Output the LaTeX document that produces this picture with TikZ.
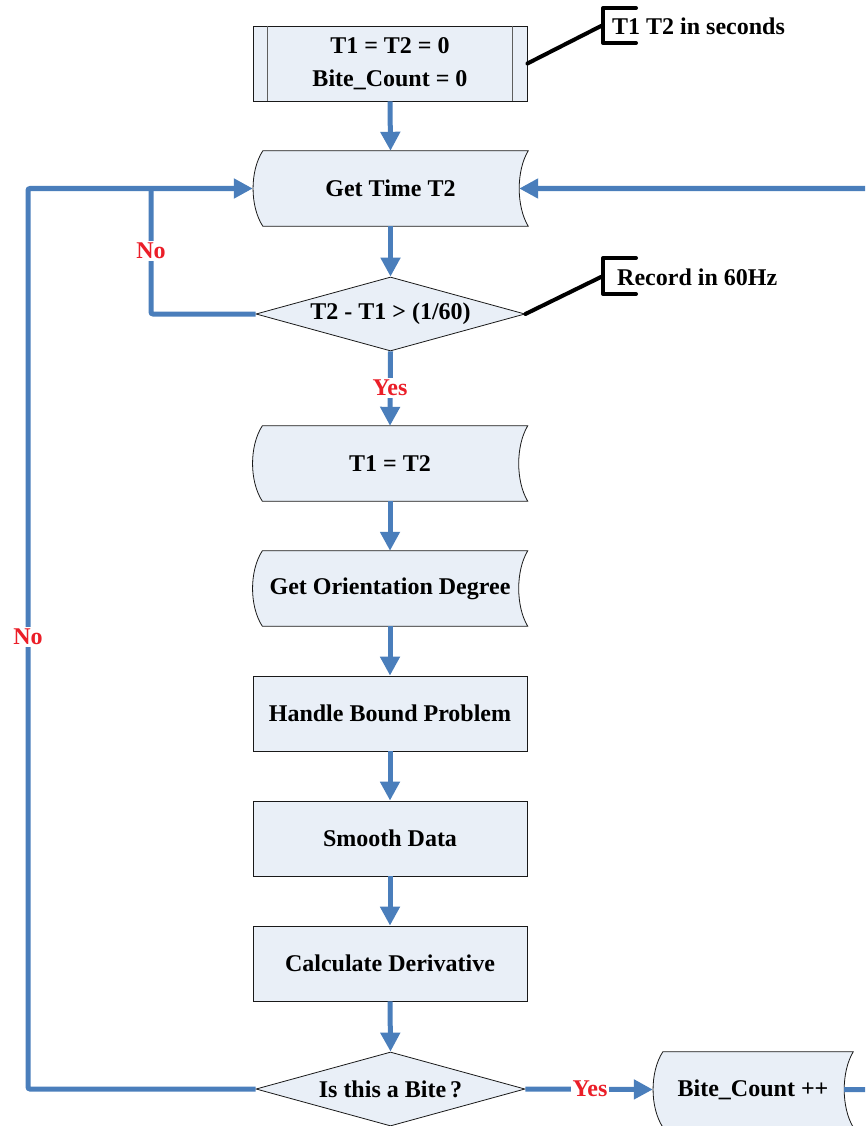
\documentclass[tikz,border=0pt]{standalone}
\usepackage{fontspec}
\setmainfont{Liberation Serif}
\usetikzlibrary{arrows.meta,shapes.geometric,backgrounds}
\definecolor{boxfill}{RGB}{233,239,247}
\definecolor{flowblue}{RGB}{74,126,187}
\definecolor{labred}{RGB}{235,30,40}
\definecolor{edgecol}{RGB}{25,25,25}
\tikzset{
  base/.style={font=\bfseries\fontsize{24}{33}\selectfont, text=black},
  proc/.style={base, draw=edgecol, fill=boxfill, line width=0.8pt, minimum width=274pt, minimum height=75pt, inner sep=0pt},
  sdnode/.style={base, minimum width=275pt, minimum height=75pt, inner sep=0pt},
  sdline/.style={draw=edgecol, fill=boxfill, line width=0.8pt},
  dia/.style={base, diamond, aspect=3.63, draw=edgecol, fill=boxfill, line width=0.8pt, minimum width=269pt, minimum height=74pt, inner sep=0pt},
  flow/.style={draw=flowblue, line width=5pt, rounded corners=2pt, -{Triangle[length=19pt,width=19pt]}},
  flowline/.style={draw=flowblue, line width=5pt, rounded corners=2pt},
  lab/.style={base, text=labred, fill=white, inner sep=2pt},
  note/.style={base, anchor=west, inner sep=0pt},
  noteline/.style={draw=black, line width=4pt, line cap=round, line join=round}
}
\newcommand\sdpath[1]{%
  \path[sdline] ([xshift=10pt]#1.north west) -- (#1.north east)
    .. controls ([xshift=-12pt,yshift=-20pt]#1.north east) and ([xshift=-12pt,yshift=20pt]#1.south east) .. (#1.south east)
    -- ([xshift=10pt]#1.south west)
    .. controls ([xshift=-3pt,yshift=20pt]#1.south west) and ([xshift=-3pt,yshift=-20pt]#1.north west) .. ([xshift=10pt]#1.north west) -- cycle;
}
\begin{document}
\begin{tikzpicture}[x=1pt, y=-1pt]
\useasboundingbox (0,0) rectangle (865,1126);
\clip (0,0) rectangle (865,1126);

% predefined process
\node[proc, align=center] (init) at (390,63.5) {T1 = T2 = 0\\Bite\_Count = 0};
\draw[draw=edgecol!70, line width=0.8pt] ([xshift=15pt]init.north west) -- ([xshift=15pt]init.south west);
\draw[draw=edgecol!70, line width=0.8pt] ([xshift=-15pt]init.north east) -- ([xshift=-15pt]init.south east);

% stored data nodes
\node[sdnode] (gt) at (390.5,188.5) {Get Time T2};
\node[sdnode] (t12) at (390,463.5) {T1 = T2};
\node[sdnode] (gor) at (390,588.5) {Get Orientation Degree};
\node[sdnode, minimum width=200pt] (bite) at (753,1089.5) {Bite\_Count ++};
\begin{pgfonlayer}{background}
  \sdpath{gt}
  \sdpath{t12}
  \sdpath{gor}
  \sdpath{bite}
\end{pgfonlayer}

% diamonds
\node[dia] (d1) at (390.5,314) {T2 - T1 > (1/60)};
\node[dia] (d2) at (390.5,1089) {Is this a Bite\,?};

% processes
\node[proc] (hbp) at (390,713.5) {Handle Bound Problem};
\node[proc] (smd) at (390,838.5) {Smooth Data};
\node[proc] (cd) at (390,963.5) {Calculate Derivative};

% annotations
\coordinate (b1) at (603,25);
\coordinate (b2) at (603,276);
\draw[noteline] (636,8) -- (603,8) -- (603,43) -- (636,43);
\draw[noteline] (636,258) -- (603,258) -- (603,294) -- (636,294);
\draw[noteline] (init.east) -- (b1);
\draw[noteline] (d1.east) -- (b2);
\node[note] (n1) at (612,26) {T1 T2 in seconds};
\node[note] (n2) at (617,277) {Record in 60Hz};

% flow connectors
\coordinate (c1) at (151,188.5);
\coordinate (c2) at (28,188.5);
\draw[flow] (init.south) -- (gt.north);
\draw[flow] (gt.south) -- (d1.north);
\draw[flow] (d1.south) -- (t12.north);
\draw[flow] (t12.south) -- (gor.north);
\draw[flow] (gor.south) -- (hbp.north);
\draw[flow] (hbp.south) -- (smd.north);
\draw[flow] (smd.south) -- (cd.north);
\draw[flow] (cd.south) -- (d2.north);
\draw[flowline] (d1.west) -| (c1);
\draw[flow] (d2.west) -| (c2) -- (gt.west);
\draw[flow] (d2.east) -- (bite.west);
\draw[flow] ([xshift=-9pt]bite.east) -- ++(40,0) |- ([xshift=-9pt]gt.east);

% labels
\node[lab] (no1) at (151,251) {No};
\node[lab] (yes1) at (390,388) {Yes};
\node[lab] (no2) at (28,637) {No};
\node[lab] (yes2) at (590,1089) {Yes};
\end{tikzpicture}
\end{document}
